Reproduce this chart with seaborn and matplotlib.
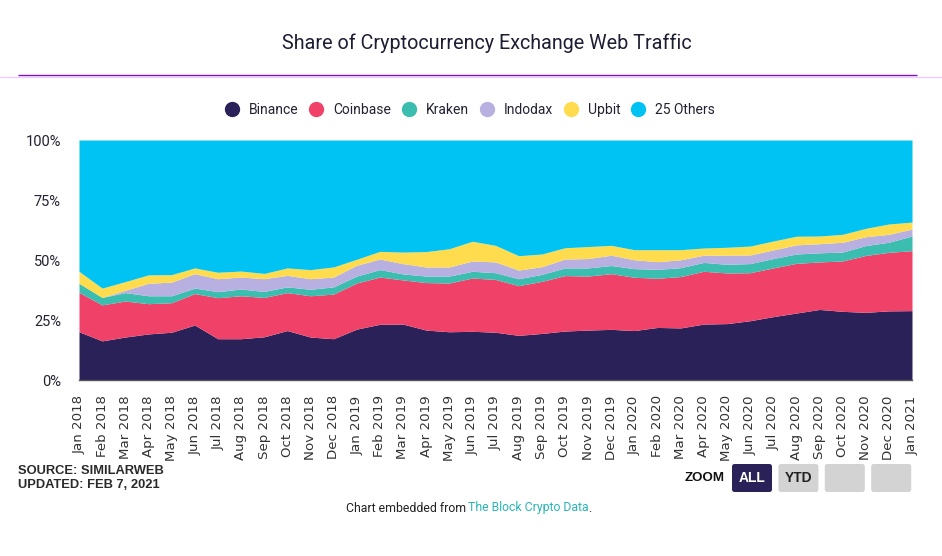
import matplotlib
matplotlib.use("Agg")
import matplotlib.pyplot as plt
from matplotlib.lines import Line2D
from matplotlib.patches import FancyBboxPatch
import seaborn as sns

FIG_W, FIG_H = 942, 556

months = [
    'Jan 2018', 'Feb 2018', 'Mar 2018', 'Apr 2018', 'May 2018', 'Jun 2018',
    'Jul 2018', 'Aug 2018', 'Sep 2018', 'Oct 2018', 'Nov 2018', 'Dec 2018',
    'Jan 2019', 'Feb 2019', 'Mar 2019', 'Apr 2019', 'May 2019', 'Jun 2019',
    'Jul 2019', 'Aug 2019', 'Sep 2019', 'Oct 2019', 'Nov 2019', 'Dec 2019',
    'Jan 2020', 'Feb 2020', 'Mar 2020', 'Apr 2020', 'May 2020', 'Jun 2020',
    'Jul 2020', 'Aug 2020', 'Sep 2020', 'Oct 2020', 'Nov 2020', 'Dec 2020',
    'Jan 2021',
]

binance = [20.1, 16.3, 17.9, 19.2, 19.9, 22.9, 17.2, 17.2, 18.0, 20.6, 17.9, 17.2,
           21.2, 23.2, 23.3, 20.8, 20.1, 20.3, 19.9, 18.6, 19.4, 20.4, 20.8, 21.1,
           20.6, 21.9, 21.7, 23.3, 23.5, 24.7, 26.4, 27.9, 29.4, 28.6, 28.2, 28.8, 28.9]
coinbase = [16.4, 15.0, 15.0, 12.6, 12.3, 13.1, 17.1, 17.9, 16.4, 15.8, 17.2, 18.6,
            19.2, 19.7, 18.4, 19.8, 20.3, 22.2, 22.0, 20.7, 21.7, 23.1, 22.5, 23.2,
            22.2, 20.5, 21.4, 22.0, 21.1, 20.0, 20.3, 20.7, 19.8, 21.0, 23.7, 24.4, 25.0]
kraken = [3.8, 3.1, 3.5, 3.3, 2.9, 2.3, 2.5, 2.8, 2.5, 2.4, 2.7, 3.0,
          2.9, 3.1, 2.5, 2.7, 2.9, 2.8, 2.8, 2.9, 2.9, 3.2, 3.4, 3.4,
          3.6, 3.7, 3.7, 3.7, 3.6, 3.8, 3.9, 3.9, 3.8, 3.7, 4.1, 4.2, 6.1]
indodax = [0.0, 0.0, 1.0, 5.2, 5.7, 6.0, 5.4, 5.0, 5.3, 4.8, 4.4, 4.1,
           4.5, 4.4, 4.3, 3.8, 3.8, 4.3, 4.5, 3.6, 3.2, 3.7, 3.9, 4.3,
           3.7, 3.2, 3.3, 3.0, 3.8, 3.6, 3.6, 3.8, 3.8, 4.1, 3.7, 3.3, 2.9]
upbit = [5.0, 3.9, 3.6, 3.5, 3.1, 2.4, 2.7, 2.5, 2.2, 3.1, 3.8, 4.2,
         2.5, 3.2, 4.8, 6.4, 7.6, 8.2, 6.9, 6.0, 5.3, 4.7, 5.0, 4.1,
         4.2, 5.0, 4.2, 3.0, 3.3, 3.7, 3.7, 3.6, 3.2, 3.3, 3.5, 4.3, 2.9]
others = [54.7, 61.7, 59.0, 56.2, 56.1, 53.3, 55.1, 54.6, 55.6, 53.3, 54.0, 52.9,
          49.7, 46.4, 46.7, 46.5, 45.3, 42.2, 43.9, 48.2, 47.5, 44.9, 44.4, 43.9,
          45.7, 45.7, 45.7, 45.0, 44.7, 44.2, 42.1, 40.1, 40.0, 39.3, 36.8, 35.0, 34.2]

series_names = ['Binance', 'Coinbase', 'Kraken', 'Indodax', 'Upbit', '25 Others']
colors = ['#2a2159', '#f04268', '#3bbdb0', '#b8b0e0', '#ffdc4e', '#00c3f3']
y_ticks = [0, 25, 50, 75, 100]
zoom_buttons = ['ALL', 'YTD', '', '']

TEXT = '#222233'


def fx(px):
    return px / FIG_W


def fy(px):
    return 1 - px / FIG_H


def add_button(fig, left, label, active):
    # buttons are laid out in pixels, figure coords are awkward with rounded corners
    top, width, height = 464, 40, 28
    face = '#2a2159' if active else '#d3d3d3'
    fig.add_artist(FancyBboxPatch((left, FIG_H - top - height), width, height,
                                  boxstyle='round,pad=0,rounding_size=2.5',
                                  transform=None, facecolor=face, edgecolor='none'))
    if label:
        fig.text(fx(left + width / 2), fy(top + height / 2), label, family='Liberation Sans',
                 fontsize=10, fontweight='bold', ha='center', va='center',
                 color='white' if active else '#222222')


def main():
    sns.set_theme(style='white')
    plt.rcParams['font.family'] = ['Roboto', 'DejaVu Sans']
    palette = sns.color_palette(colors)

    fig = plt.figure(figsize=(FIG_W / 100, FIG_H / 100), dpi=100)
    ax = fig.add_axes([fx(79), fy(380), (912 - 79) / FIG_W, 240 / FIG_H])

    x = list(range(len(months)))
    ax.stackplot(x, binance, coinbase, kraken, indodax, upbit, others,
                 colors=palette, linewidth=0)
    ax.set_xlim(0, len(months) - 1)
    ax.set_ylim(0, 100)
    ax.set_xticks(x)
    ax.set_xticklabels(months, rotation=90, fontsize=9.6, family='DejaVu Sans', color='#333333')
    ax.set_yticks(y_ticks)
    ax.set_yticklabels([f'{v}%' for v in y_ticks], fontsize=10.5, color=TEXT)
    ax.tick_params(axis='x', length=0, pad=11)
    ax.tick_params(axis='y', length=0, pad=13)
    sns.despine(ax=ax, left=True, top=True, right=True)
    ax.spines['bottom'].set_color('#555555')
    ax.spines['bottom'].set_linewidth(1)

    fig.text(fx(487), fy(43), 'Share of Cryptocurrency Exchange Web Traffic',
             ha='center', va='center', fontsize=14.2, color='#1d1d33')

    # header rule: pale full width, strong part on top
    fig.add_artist(Line2D([0, 1], [fy(76.5), fy(76.5)], color='#eeccff', lw=1))
    fig.add_artist(Line2D([fx(18), fx(917)], [fy(75.5), fy(75.5)], color='#7d14c0', lw=1,
                          solid_capstyle='butt'))

    handles = [Line2D([], [], marker='o', linestyle='none', markersize=10, color=c)
               for c in palette]
    fig.legend(handles, series_names, loc='center', bbox_to_anchor=(fx(470), fy(110)),
               ncol=6, frameon=False, fontsize=10, handlelength=1, handletextpad=0.7,
               columnspacing=0.8, labelcolor=TEXT, borderpad=0)

    fig.text(fx(18), fy(471), 'SOURCE: SIMILARWEB', family='Liberation Sans', fontsize=9.3,
             fontweight='bold', va='center', color='#2a2a2a')
    fig.text(fx(18), fy(485), 'UPDATED: FEB 7, 2021', family='Liberation Sans', fontsize=9.3,
             fontweight='bold', va='center', color='#2a2a2a')

    fig.text(fx(685), fy(478), 'ZOOM', family='Liberation Sans', fontsize=9.6, fontweight='bold',
             va='center', color='#111111')
    for i, label in enumerate(zoom_buttons):
        add_button(fig, 732 + i * 46.4, label, i == 0)

    fig.text(fx(346), fy(508), 'Chart embedded from', fontsize=8.8, va='center', color='#222222')
    fig.text(fx(468), fy(508), 'The Block Crypto Data', fontsize=8.8, va='center', color='#29b5b5')
    fig.text(fx(588), fy(508), '.', fontsize=8.8, va='center', color='#222222')

    fig.savefig('out.png', dpi=100)


if __name__ == '__main__':
    main()
